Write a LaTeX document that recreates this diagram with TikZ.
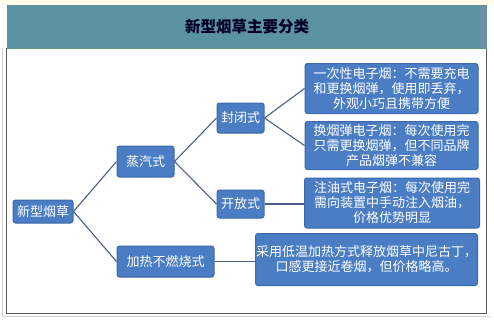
\documentclass[tikz,border=0pt]{standalone}
\usepackage{fontspec}
\newfontfamily\cjk{Noto Sans CJK SC}
\definecolor{titlebar}{HTML}{5A92A4}
\definecolor{titleedge}{HTML}{6A8FA8}
\definecolor{boxfill}{HTML}{4A7DC3}
\definecolor{boxedge}{HTML}{3B69AC}
\definecolor{linkcol}{HTML}{4E5E86}
\definecolor{framecol}{HTML}{5A5A5A}
\definecolor{cream}{HTML}{FFFBE8}
\definecolor{titleline}{HTML}{5E9A7A}
\tikzset{
  box/.style={draw=boxedge, line width=1pt, fill=boxfill, rounded corners=2.5pt,
    text=white, font=\cjk\fontsize{13}{15}\selectfont, inner sep=0pt, align=center},
  link/.style={draw=linkcol, line width=1.1pt},
}
\begin{document}
\begin{tikzpicture}[x=1pt,y=-1pt]
\useasboundingbox (0,0) rectangle (494,321);
\fill[white] (0,0) rectangle (494,321);
\fill[cream] (0,0) rectangle (494,5);
% frame
\draw[gray!35, line width=0.8pt] (2.5,48) -- (2.5,316.5) -- (490,316.5);
\draw[framecol, line width=1pt] (6.5,48) -- (6.5,313) -- (486,313) -- (486,48);
% title bar
\fill[titlebar] (7,5) rectangle (487,48);
\fill[titleedge] (480,5) rectangle (487,48);
\draw[titleline, line width=0.8pt] (7,48) -- (487,48);
\node[font=\cjk\bfseries\fontsize{15.5}{17}\selectfont, text=black!85!blue] (title) at (247,27) {新型烟草主要分类};
% nodes
\node[box, minimum width=60, minimum height=23] (root) at (43,211.5) {新型烟草};
\node[box, minimum width=57, minimum height=31] (steam) at (145.5,161.5) {蒸汽式};
\node[box, minimum width=97, minimum height=31] (heat) at (165.5,261.5) {加热不燃烧式};
\node[box, minimum width=47, minimum height=30] (closed) at (240.5,118) {封闭式};
\node[box, minimum width=47, minimum height=28] (open) at (240.5,204) {开放式};
\node[box, minimum width=173, minimum height=50] (leafa) at (391.5,88.5) {一次性电子烟：不需要充电\\和更换烟弹，使用即丢弃，\\外观小巧且携带方便};
\node[box, minimum width=173, minimum height=48] (leafb) at (391.5,145.5) {换烟弹电子烟：每次使用完\\只需更换烟弹，但不同品牌\\产品烟弹不兼容};
\node[box, minimum width=175, minimum height=50] (leafc) at (392,203) {注油式电子烟：每次使用完\\需向装置中手动注入烟油，\\价格优势明显};
\node[box, minimum width=222, minimum height=52] (leafd) at (366.5,259.5) {采用低温加热方式释放烟草中尼古丁，\\口感更接近卷烟，但价格略高。};
% connectors
\draw[link] (root.east) -- (steam.west);
\draw[link] (root.east) -- (heat.west);
\draw[link] (steam.east) -- (closed.west);
\draw[link] (steam.east) -- (open.west);
\draw[link] (closed.east) -- (leafa.west);
\draw[link] (closed.east) -- (leafb.west);
\draw[link] (open.east) -- (open.east -| leafc.west);
\draw[link] (heat.east) -- (heat.east -| leafd.west);
\end{tikzpicture}
\end{document}
